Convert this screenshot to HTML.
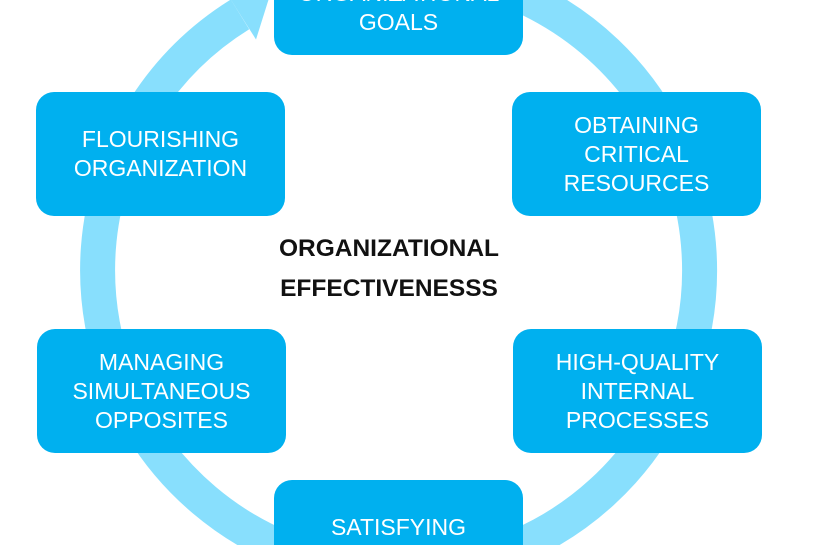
<!DOCTYPE html>
<html><head><style>
html,body{margin:0;padding:0;background:#fff;width:820px;height:545px;overflow:hidden;}
body{position:relative;font-family:"Liberation Sans",sans-serif;}
.b{position:absolute;width:249px;height:124px;background:#00b0ef;border-radius:18px;color:#fff;font-size:23px;line-height:29px;display:flex;align-items:center;justify-content:center;text-align:center;}
.c{position:absolute;left:209px;top:229px;width:360px;text-align:center;font-weight:bold;font-size:24.5px;line-height:40px;color:#111;}
</style></head><body>
<svg width="820" height="545" style="position:absolute;left:0;top:0">
<path d="M240 14.4 A301 301 0 1 0 420 -30" fill="none" stroke="#88dffd" stroke-width="35"/>
<polygon points="270,-5 256,39.5 224,-11" fill="#88dffd"/>
</svg>
<div class="b" style="left:274px;top:-69px;align-items:flex-end;"><div style="padding-bottom:18px">ORGANIZATIONAL<br>GOALS</div></div>
<div class="b" style="left:36px;top:92px">FLOURISHING<br>ORGANIZATION</div>
<div class="b" style="left:512px;top:92px">OBTAINING<br>CRITICAL<br>RESOURCES</div>
<div class="b" style="left:37px;top:329px">MANAGING<br>SIMULTANEOUS<br>OPPOSITES</div>
<div class="b" style="left:513px;top:329px">HIGH-QUALITY<br>INTERNAL<br>PROCESSES</div>
<div class="b" style="left:274px;top:480px;height:65px;border-radius:18px 18px 0 0;align-items:flex-start"><div style="padding-top:33px">SATISFYING</div></div>
<div class="c">ORGANIZATIONAL<br>EFFECTIVENESSS</div>
</body></html>
